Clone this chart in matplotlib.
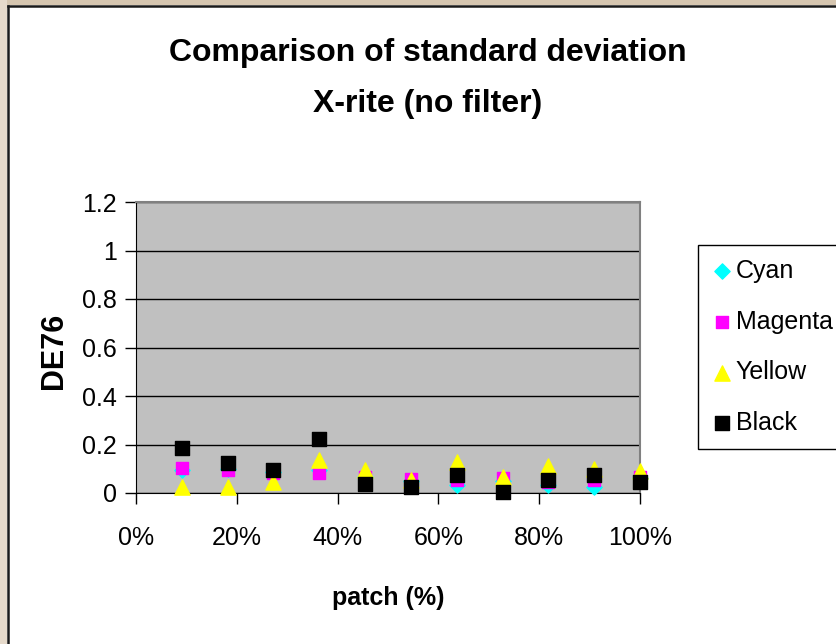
import numpy as np
import matplotlib
matplotlib.use('Agg')
import matplotlib.pyplot as plt
from matplotlib.patches import Rectangle
from matplotlib.ticker import PercentFormatter

plt.rcParams['font.family'] = ['Liberation Sans', 'DejaVu Sans']

# patch coverage (fraction), 11 steps
patch = [1/11, 2/11, 3/11, 4/11, 5/11, 6/11, 7/11, 8/11, 9/11, 10/11, 11/11]

# standard deviation DE76 per ink
cyan    = [0.095, 0.097, 0.085, 0.095, 0.065, 0.050, 0.033, 0.050, 0.035, 0.026, 0.060]
magenta = [0.104, 0.095, 0.084, 0.081, 0.067, 0.056, 0.054, 0.062, 0.047, 0.054, 0.067]
yellow  = [0.026, 0.026, 0.047, 0.136, 0.095, 0.054, 0.129, 0.067, 0.111, 0.098, 0.092]
black   = [0.186, 0.122, 0.094, 0.221, 0.036, 0.023, 0.073, 0.003, 0.052, 0.073, 0.044]

W, H = 836, 644
fig = plt.figure(figsize=(W / 100, H / 100), dpi=100)
fig.patch.set_facecolor('white')

# beige outer frame on top and left, with a dark line inside it
tan = '#d6c6b0'
fig.patches.append(Rectangle((0, 1 - 5 / H), 1, 5 / H, transform=fig.transFigure,
                             facecolor=tan, edgecolor='none', zorder=0))
fig.patches.append(Rectangle((0, 0), 7 / W, 1, transform=fig.transFigure,
                             facecolor='#e6dacb', edgecolor='none', zorder=0))
fig.add_artist(plt.Line2D([7.5 / W, 1], [1 - 6 / H, 1 - 6 / H], transform=fig.transFigure,
                          color='#1a1a1a', linewidth=1.8))
fig.add_artist(plt.Line2D([7.5 / W, 7.5 / W], [0, 1 - 6 / H], transform=fig.transFigure,
                          color='#1a1a1a', linewidth=1.8))

ax = fig.add_axes([136 / W, (H - 493) / H, 504 / W, 291 / H])
ax.set_facecolor('#c0c0c0')

ax.scatter(patch, cyan, marker='D', s=60, color='#00ffff', label='Cyan', zorder=3, clip_on=False)
ax.scatter(patch, magenta, marker='s', s=80, color='#ff00ff', label='Magenta', zorder=4, clip_on=False)
ax.scatter(patch, yellow, marker='^', s=120, color='#ffff00', label='Yellow', zorder=5, clip_on=False)
ax.scatter(patch, black, marker='s', s=100, color='black', label='Black', zorder=6, clip_on=False)

ax.set_xlim(0, 1)
ax.set_ylim(0, 1.2)
ax.set_xticks(np.arange(0, 1.01, 0.2))
ax.xaxis.set_major_formatter(PercentFormatter(1.0, decimals=0))
ax.set_yticks(np.arange(0, 1.21, 0.2))
ax.set_yticklabels(['0', '0.2', '0.4', '0.6', '0.8', '1', '1.2'])
ax.yaxis.grid(True, color='black', linewidth=1)
ax.set_axisbelow(True)

ax.tick_params(axis='both', labelsize=18, direction='out', length=8, width=1, colors='black')
ax.tick_params(axis='x', pad=16)
ax.tick_params(axis='y', pad=6)
for side in ['left', 'bottom']:
    ax.spines[side].set_color('black')
for side in ['top', 'right']:
    ax.spines[side].set_color('#808080')
    ax.spines[side].set_linewidth(1.5)

ax.set_xlabel('patch (%)', fontsize=18, fontweight='bold', labelpad=26)
ax.set_ylabel('DE76', fontsize=22, fontweight='bold', va='center')
ax.yaxis.set_label_coords(-0.163, 0.49)

fig.text(428 / W, 1 - 53 / H, 'Comparison of standard deviation', ha='center', va='center',
         fontsize=23, fontweight='bold')
fig.text(428 / W, 1 - 104 / H, 'X-rite (no filter)', ha='center', va='center',
         fontsize=23, fontweight='bold')

leg = fig.legend(loc='upper left', bbox_to_anchor=(698 / W, 1 - 245 / H), fontsize=18,
                 frameon=True, fancybox=False, framealpha=1, edgecolor='black',
                 borderaxespad=0, labelspacing=1.07, handletextpad=0.15,
                 handlelength=0.8, borderpad=0.55, scatterpoints=1)
leg.get_frame().set_linewidth(1)

plt.savefig('out.png', dpi=100)
